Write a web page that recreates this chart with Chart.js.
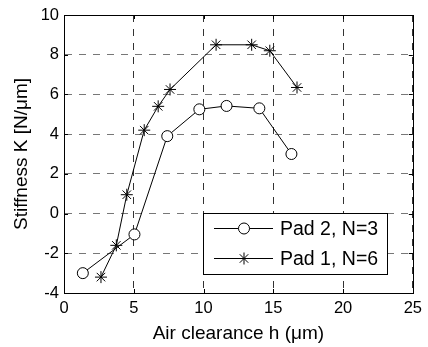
<!DOCTYPE html>
<html>
<head>
<meta charset="utf-8">
<script src="https://cdn.jsdelivr.net/npm/chart.js@4.4.1/dist/chart.umd.min.js"></script>
<style>
  html, body { margin: 0; padding: 0; background: #fff; }
  #wrap { width: 428px; height: 347px; }
</style>
</head>
<body>
<div id="wrap"><canvas id="c" width="428" height="347"></canvas></div>
<script>
// Stiffness vs. air clearance for two pad configurations
const seriesNames = ['Pad 2, N=3', 'Pad 1, N=6'];

const pad2Clearance = [1.35, 5.05, 7.4, 9.7, 11.65, 14.0, 16.3];
const pad2Stiffness = [-3.0, -1.05, 3.9, 5.25, 5.42, 5.3, 3.0];

const pad1Clearance = [2.65, 3.75, 4.5, 5.75, 6.75, 7.6, 10.9, 13.45, 14.75, 16.7];
const pad1Stiffness = [-3.2, -1.6, 0.95, 4.2, 5.4, 6.25, 8.5, 8.5, 8.2, 6.35];

const xTicks = [0, 5, 10, 15, 20, 25];
const yTicks = [-4, -2, 0, 2, 4, 6, 8, 10];

const FONT = "'Liberation Sans', Arial, Helvetica, sans-serif";

function toPoints(xs, ys) {
  return xs.map((x, i) => ({ x: x, y: ys[i] }));
}

// marker drawing shared by the legend
function drawMarker(ctx, style, r, x, y) {
  ctx.beginPath();
  if (style === 'circle') {
    ctx.arc(x, y, r, 0, Math.PI * 2);
    ctx.fillStyle = '#fff';
    ctx.fill();
    ctx.stroke();
  } else {
    const d = r * Math.SQRT1_2;
    ctx.moveTo(x - r, y); ctx.lineTo(x + r, y);
    ctx.moveTo(x, y - r); ctx.lineTo(x, y + r);
    ctx.moveTo(x - d, y - d); ctx.lineTo(x + d, y + d);
    ctx.moveTo(x - d, y + d); ctx.lineTo(x + d, y - d);
    ctx.stroke();
  }
}

// full axes box with inward tick marks on all four sides
const axesBox = {
  id: 'axesBox',
  afterDatasetsDraw(chart) {
    const { ctx, chartArea: a, scales } = chart;
    const t = 4;
    ctx.save();
    ctx.strokeStyle = '#000';
    ctx.lineWidth = 1;
    ctx.beginPath();
    xTicks.forEach(v => {
      const px = Math.round(scales.x.getPixelForValue(v)) + 0.5;
      ctx.moveTo(px, a.bottom); ctx.lineTo(px, a.bottom - t);
      ctx.moveTo(px, a.top); ctx.lineTo(px, a.top + t);
    });
    yTicks.forEach(v => {
      const py = Math.round(scales.y.getPixelForValue(v)) + 0.5;
      ctx.moveTo(a.left, py); ctx.lineTo(a.left + t, py);
      ctx.moveTo(a.right, py); ctx.lineTo(a.right - t, py);
    });
    ctx.stroke();
    ctx.strokeRect(Math.round(a.left) + 0.5, Math.round(a.top) + 0.5,
                   Math.round(a.right - a.left), Math.round(a.bottom - a.top));
    ctx.restore();
  }
};

// boxed legend with line + marker samples
const boxLegend = {
  id: 'boxLegend',
  afterDraw(chart) {
    const { ctx, chartArea: a } = chart;
    const boxW = 184, boxH = 61;
    const x0 = Math.round(a.right) - 26 - boxW;
    const y0 = Math.round(a.bottom) - 19 - boxH;
    ctx.save();
    ctx.fillStyle = '#fff';
    ctx.fillRect(x0, y0, boxW, boxH);
    ctx.strokeStyle = '#000';
    ctx.lineWidth = 1;
    ctx.strokeRect(x0 + 0.5, y0 + 0.5, boxW, boxH);
    const order = [0, 1];
    order.forEach((di, row) => {
      const ds = chart.data.datasets[di];
      const cy = y0 + 15.5 + row * 30;
      ctx.beginPath();
      ctx.moveTo(x0 + 11, cy); ctx.lineTo(x0 + 70, cy);
      ctx.stroke();
      drawMarker(ctx, ds.pointStyle, ds.pointRadius, x0 + 41, cy);
      ctx.fillStyle = '#000';
      ctx.font = '19.5px ' + FONT;
      ctx.textBaseline = 'middle';
      ctx.textAlign = 'left';
      ctx.fillText(ds.label, x0 + 77, cy + 1);
    });
    ctx.restore();
  }
};

new Chart(document.getElementById('c'), {
  type: 'line',
  data: {
    datasets: [
      {
        label: seriesNames[0],
        data: toPoints(pad2Clearance, pad2Stiffness),
        borderColor: '#000',
        borderWidth: 1,
        pointStyle: 'circle',
        pointRadius: 5.5,
        pointBackgroundColor: '#fff',
        pointBorderColor: '#000',
        pointBorderWidth: 1,
        tension: 0,
        fill: false
      },
      {
        label: seriesNames[1],
        data: toPoints(pad1Clearance, pad1Stiffness),
        borderColor: '#000',
        borderWidth: 1,
        pointStyle: 'star',
        pointRadius: 6,
        pointBackgroundColor: '#000',
        pointBorderColor: '#000',
        pointBorderWidth: 1,
        tension: 0,
        fill: false
      }
    ]
  },
  options: {
    responsive: false,
    animation: false,
    events: [],
    layout: { padding: { left: 0, top: 15, right: 11, bottom: 0 } },
    plugins: {
      legend: { display: false },
      tooltip: { enabled: false }
    },
    scales: {
      x: {
        type: 'linear',
        min: 0,
        max: 25,
        afterFit: s => { s.height = 54; },
        afterBuildTicks: s => { s.ticks = xTicks.map(v => ({ value: v })); },
        grid: { color: '#333', lineWidth: 1, drawTicks: false },
        border: { display: true, color: '#000', width: 1, dash: [7, 7] },
        ticks: { color: '#000', padding: 6, font: { family: FONT, size: 16.5 } },
        title: {
          display: true,
          text: 'Air clearance h (μm)',
          color: '#000',
          font: { family: FONT, size: 19 },
          padding: { top: 0, bottom: 2 }
        }
      },
      y: {
        type: 'linear',
        min: -4,
        max: 10,
        afterFit: s => { s.width = 64; },
        afterBuildTicks: s => { s.ticks = yTicks.map(v => ({ value: v })); },
        grid: { color: '#777', lineWidth: 1, drawTicks: false },
        border: { display: true, color: '#000', width: 1, dash: [7, 7] },
        ticks: { color: '#000', padding: 5, font: { family: FONT, size: 16.5 } },
        title: {
          display: true,
          text: 'Stiffness K [N/μm]',
          color: '#000',
          font: { family: FONT, size: 19 },
          padding: { top: 10, bottom: 0 }
        }
      }
    }
  },
  plugins: [axesBox, boxLegend]
});
</script>
</body>
</html>
